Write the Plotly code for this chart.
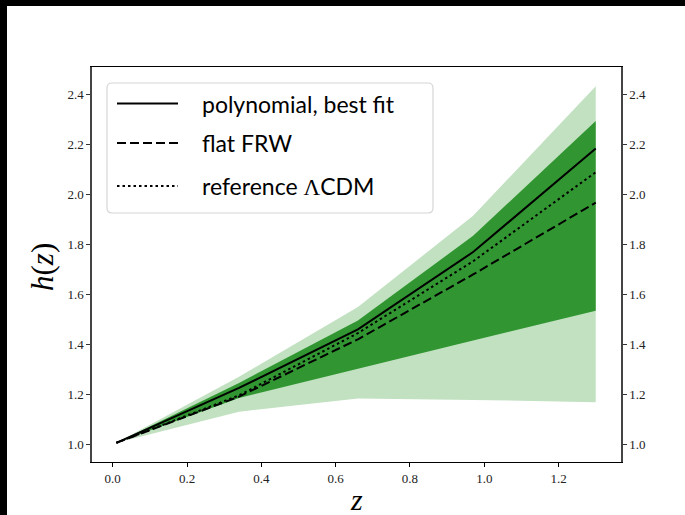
import plotly.graph_objects as go

# redshift nodes
z = [0.01, 0.34, 0.66, 0.97, 1.30]

# confidence bands of the polynomial reconstruction
outer_lo = [1.005, 1.130, 1.183, 1.177, 1.168]
outer_hi = [1.005, 1.270, 1.550, 1.915, 2.435]
inner_lo = [1.005, 1.185, 1.302, 1.415, 1.535]
inner_hi = [1.005, 1.245, 1.495, 1.835, 2.295]

# curves
best_fit = [1.005, 1.225, 1.460, 1.770, 2.185]
flat_frw = [1.005, 1.190, 1.420, 1.680, 1.968]
lcdm_ref = [1.005, 1.195, 1.445, 1.733, 2.090]

x_ticks = [0.0, 0.2, 0.4, 0.6, 0.8, 1.0, 1.2]
y_ticks = [1.0, 1.2, 1.4, 1.6, 1.8, 2.0, 2.2, 2.4]

legend_labels = [
    "polynomial, best fit",
    "flat FRW",
    "reference <span style=\"font-family:'Liberation Serif'\">Λ</span>CDM",
]

W, H = 685, 515
L, R, T, B = 92, 64, 67, 53
PW, PH = W - L - R, H - T - B
X_RANGE = [-0.0557, 1.368]
Y_RANGE = [0.928, 2.512]

LIGHT = "rgb(193,225,193)"
DARK = "rgb(49,150,49)"
SERIF = "Liberation Serif"


def px(xp):
    return (xp - L) / PW


def py(yp):
    return (H - B - yp) / PH


fig = go.Figure()

fig.add_trace(go.Scatter(
    x=z + z[::-1], y=outer_hi + outer_lo[::-1], fill="toself",
    fillcolor=LIGHT, line=dict(width=0), mode="lines",
    hoverinfo="skip", showlegend=False))
fig.add_trace(go.Scatter(
    x=z + z[::-1], y=inner_hi + inner_lo[::-1], fill="toself",
    fillcolor=DARK, line=dict(width=0), mode="lines",
    hoverinfo="skip", showlegend=False))

styles = [("solid", best_fit), ("9px,4px", flat_frw), ("2.5px,3px", lcdm_ref)]
for dash, ys in styles:
    fig.add_trace(go.Scatter(x=z, y=ys, mode="lines",
                             line=dict(color="black", width=2, dash=dash),
                             showlegend=False))

# right-hand twin axis carrying the same scale
fig.add_trace(go.Scatter(x=z, y=best_fit, yaxis="y2", mode="lines",
                         line=dict(width=0, color="rgba(0,0,0,0)"),
                         hoverinfo="skip", showlegend=False))

tick_font = dict(family=SERIF, size=13, color="#222")
fig.update_layout(
    width=W, height=H,
    margin=dict(l=L, r=R, t=T, b=B),
    paper_bgcolor="white", plot_bgcolor="white",
    xaxis=dict(range=X_RANGE, tickvals=x_ticks, tickformat=".1f",
               ticks="outside", ticklen=4, tickcolor="black",
               showline=True, linecolor="black", linewidth=1.2,
               mirror=True, showgrid=False, zeroline=False,
               tickfont=tick_font),
    yaxis=dict(range=Y_RANGE, tickvals=y_ticks, tickformat=".1f",
               ticks="outside", ticklen=4, tickcolor="#333",
               showline=True, linecolor="#444", linewidth=1.5,
               showgrid=False, zeroline=False, tickfont=tick_font),
    yaxis2=dict(range=Y_RANGE, tickvals=y_ticks, tickformat=".1f",
                overlaying="y", side="right", anchor="x",
                ticks="outside", ticklen=4, tickcolor="#333",
                showline=True, linecolor="#444", linewidth=1.5,
                showgrid=False, zeroline=False, tickfont=tick_font),
)

# axis titles
fig.add_annotation(xref="paper", yref="paper", x=px(356), y=py(499),
                   text="<i>z</i>", showarrow=False,
                   font=dict(family=SERIF, size=30, color="black"),
                   xanchor="center", yanchor="middle")
fig.add_annotation(xref="paper", yref="paper", x=px(42), y=py(267),
                   text="<i>h</i>(<i>z</i>)", showarrow=False, textangle=-90,
                   font=dict(family=SERIF, size=31, color="black"),
                   xanchor="center", yanchor="middle")

# legend box with rounded corners
x0, x1, y0, y1 = 107, 433, 83, 213
r = 5
path = (f"M {px(x0 + r)},{py(y0)} L {px(x1 - r)},{py(y0)} "
        f"Q {px(x1)},{py(y0)} {px(x1)},{py(y0 + r)} "
        f"L {px(x1)},{py(y1 - r)} Q {px(x1)},{py(y1)} {px(x1 - r)},{py(y1)} "
        f"L {px(x0 + r)},{py(y1)} Q {px(x0)},{py(y1)} {px(x0)},{py(y1 - r)} "
        f"L {px(x0)},{py(y0 + r)} Q {px(x0)},{py(y0)} {px(x0 + r)},{py(y0)} Z")
fig.add_shape(type="path", path=path, xref="paper", yref="paper",
              fillcolor="rgba(255,255,255,0.85)",
              line=dict(color="#d6d6d6", width=1.2), layer="above")

rows = [103.5, 143, 186]
for (dash, _), label, yrow in zip(styles, legend_labels, rows):
    fig.add_shape(type="line", xref="paper", yref="paper",
                  x0=px(117), x1=px(178), y0=py(yrow), y1=py(yrow),
                  line=dict(color="black", width=2, dash=dash), layer="above")
    fig.add_annotation(xref="paper", yref="paper", x=px(200), y=py(yrow),
                       text=label, showarrow=False, xanchor="left",
                       yanchor="middle",
                       font=dict(family="Lato", size=23, color="black"))

# dark frame strips along the top and left edges of the canvas
fig.add_shape(type="rect", xref="paper", yref="paper",
              x0=px(-5), x1=px(7), y0=py(H + 5), y1=py(-5),
              fillcolor="black", line=dict(width=0), layer="above")
fig.add_shape(type="rect", xref="paper", yref="paper",
              x0=px(-5), x1=px(W + 5), y0=py(6), y1=py(-5),
              fillcolor="black", line=dict(width=0), layer="above")

fig.write_html("out.html")
